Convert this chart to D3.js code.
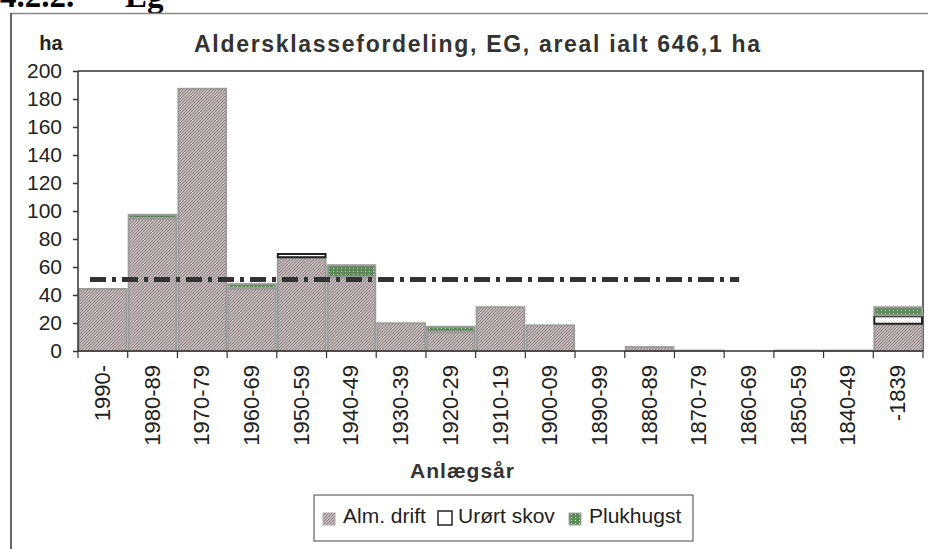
<!DOCTYPE html>
<html>
<head>
<meta charset="utf-8">
<script src="https://cdn.jsdelivr.net/npm/d3@7"></script>
<style>
  body { margin: 0; background: #fff; }
  svg { display: block; font-family: Arial, "Liberation Sans", sans-serif; }
</style>
</head>
<body>
<div id="chart"></div>
<script>
// age classes (planting years) and area per class, ha
var categories = ["1990-","1980-89","1970-79","1960-69","1950-59","1940-49","1930-39","1920-29",
                  "1910-19","1900-09","1890-99","1880-89","1870-79","1860-69","1850-59","1840-49","-1839"];
var almDrift  = [45, 95, 188, 45, 67, 53, 20.5, 14, 32, 19, 0, 3.5, 1, 0, 1, 1, 19.5];
var urortSkov = [0, 0, 0, 0, 3, 0, 0, 0, 0, 0, 0, 0, 0, 0, 0, 0, 6];
var plukhugst = [0, 3, 0, 3.5, 0, 9, 0, 4, 0, 0, 0, 0, 0, 0, 0, 0, 6.5];
var seriesNames = ["Alm. drift", "Urørt skov", "Plukhugst"];
var yTicks = [0, 20, 40, 60, 80, 100, 120, 140, 160, 180, 200];
// normal (average) level line
var normValue = 51;
var normFrom = "1990-", normTo = "1860-69";

var W = 928, H = 549;
var margin = {left: 78, right: 5, top: 71, bottom: 198};

var svg = d3.select("#chart")
	.append("svg")
	.attr("width", W)
	.attr("height", H);

var defs = svg.append("defs");
var hatch = defs.append("pattern")
	.attr("id", "hatch")
	.attr("patternUnits", "userSpaceOnUse")
	.attr("width", 3).attr("height", 3);
hatch.append("rect").attr("width", 3).attr("height", 3).attr("fill", "#c4b9b9");
hatch.append("path").attr("d", "M0,3 L3,0 M-1,1 L1,-1 M2,4 L4,2")
	.attr("stroke", "#8e8282").attr("stroke-width", 1);

var dots = defs.append("pattern")
	.attr("id", "dots")
	.attr("patternUnits", "userSpaceOnUse")
	.attr("width", 4).attr("height", 3);
dots.append("rect").attr("width", 4).attr("height", 3).attr("fill", "#5e8a5a");
dots.append("rect").attr("x", 1).attr("y", 1).attr("width", 1).attr("height", 1).attr("fill", "#c8dcc0");

// page heading, cut off at the top
var serif = "'Liberation Serif', 'DejaVu Serif', serif";
svg.append("text")
	.attr("x", 0).attr("y", 7)
	.style("font-family", serif)
	.style("font-weight", "bold")
	.style("font-size", "33px")
	.text("4.2.2.");
svg.append("text")
	.attr("x", 125).attr("y", 7)
	.style("font-family", serif)
	.style("font-weight", "bold")
	.style("font-size", "33px")
	.text("Eg");

// chart frame
svg.append("line").attr("x1", 11).attr("x2", W).attr("y1", 13.5).attr("y2", 13.5)
	.attr("stroke", "#888").attr("stroke-width", 1.5);
svg.append("line").attr("x1", 11).attr("x2", 11).attr("y1", 13).attr("y2", H)
	.attr("stroke", "#333").attr("stroke-width", 1.5);

var x = d3.scaleBand()
	.domain(categories)
	.range([margin.left, W - margin.right])
	.padding(0);

var y = d3.scaleLinear()
	.domain([0, 200])
	.range([H - margin.bottom, margin.top]);

// plot area border (top/right)
svg.append("path")
	.attr("d", "M" + margin.left + "," + y(200) + "H" + (W - margin.right) + "V" + y(0))
	.attr("fill", "none").attr("stroke", "#333").attr("stroke-width", 1.5);

var table = categories.map(function(c, i) {
	return {cat: c, "Alm. drift": almDrift[i], "Urørt skov": urortSkov[i], "Plukhugst": plukhugst[i]};
});
var stack = d3.stack().keys(seriesNames)(table);
var fills = {"Alm. drift": "url(#hatch)", "Urørt skov": "#fff", "Plukhugst": "url(#dots)"};
var strokes = {"Alm. drift": "#9c9c9c", "Urørt skov": "#222", "Plukhugst": "#9c9c9c"};

var layers = svg.selectAll("g.layer")
	.data(stack)
	.enter()
	.append("g")
	.classed("layer", true)
	.attr("fill", function(d){ return fills[d.key]; })
	.attr("stroke", function(d){ return strokes[d.key]; })
	.attr("stroke-width", 2);

layers.selectAll("rect")
	.data(function(d){ return d.filter(function(p){ return p[1] - p[0] > 0; }); })
	.enter()
	.append("rect")
	.attr("x", function(d){ return x(d.data.cat) + 1; })
	.attr("width", x.bandwidth() - 2)
	.attr("y", function(d){ return y(d[1]) + 1; })
	.attr("height", function(d){ return Math.max(0, y(d[0]) - y(d[1]) - 1); });

// y axis
var yAxis = svg.append("g")
	.attr("transform", "translate(" + margin.left + ",0)")
	.call(d3.axisLeft(y).tickValues(yTicks).tickSize(5).tickPadding(11));
yAxis.selectAll("text").style("font-size", "21px").attr("fill", "#222");
yAxis.selectAll("line, path").attr("stroke", "#333").attr("stroke-width", 1.5);
yAxis.select(".domain").attr("d", "M0," + y(200) + "V" + y(0));

// x axis, ticks at band boundaries
var xAxis = svg.append("g")
	.attr("transform", "translate(0," + y(0) + ")");
xAxis.append("line")
	.attr("x1", margin.left).attr("x2", W - margin.right)
	.attr("stroke", "#333").attr("stroke-width", 1.5);
xAxis.selectAll("line.tick")
	.data(categories.concat(["end"]))
	.enter()
	.append("line")
	.classed("tick", true)
	.attr("x1", function(d, i){ return margin.left + i * x.bandwidth(); })
	.attr("x2", function(d, i){ return margin.left + i * x.bandwidth(); })
	.attr("y1", 0).attr("y2", 7)
	.attr("stroke", "#333").attr("stroke-width", 1.2);
xAxis.selectAll("text")
	.data(categories)
	.enter()
	.append("text")
	.attr("transform", function(d){
		return "translate(" + (x(d) + x.bandwidth() / 2 + 7) + ",14) rotate(-90)";
	})
	.attr("text-anchor", "end")
	.style("font-size", "22px")
	.attr("fill", "#222")
	.text(function(d){ return d; });

// normal level dash-dot line
svg.append("line")
	.attr("x1", x(normFrom) + 12)
	.attr("x2", x(normTo) + 15)
	.attr("y1", y(normValue)).attr("y2", y(normValue))
	.attr("stroke", "#333")
	.attr("stroke-width", 5)
	.attr("stroke-dasharray", "16,6,4,6");

// titles
svg.append("text")
	.attr("x", 194).attr("y", 52)
	.attr("textLength", 566)
	.attr("lengthAdjust", "spacing")
	.style("font-size", "23px").style("font-weight", "bold")
	.attr("fill", "#333")
	.text("Aldersklassefordeling, EG, areal ialt 646,1 ha");
svg.append("text")
	.attr("x", 51).attr("y", 50)
	.attr("text-anchor", "middle")
	.style("font-size", "20px").style("font-weight", "bold")
	.attr("fill", "#222")
	.text("ha");
svg.append("text")
	.attr("x", 410).attr("y", 478)
	.attr("textLength", 104)
	.attr("lengthAdjust", "spacing")
	.style("font-size", "21px").style("font-weight", "bold")
	.attr("fill", "#333")
	.text("Anlægsår");

// legend
var legend = svg.append("g").attr("transform", "translate(314,495)");
legend.append("rect")
	.attr("width", 379).attr("height", 46)
	.attr("fill", "#fff").attr("stroke", "#444").attr("stroke-width", 1);
var legIcon = [9, 124, 255];
var legText = [29, 144, 275];
var legItems = legend.selectAll("g.item")
	.data(seriesNames)
	.enter()
	.append("g")
	.classed("item", true);
legItems.append("rect")
	.attr("x", function(d, i){ return legIcon[i]; })
	.attr("y", function(d){ return d == "Urørt skov" ? 16 : 18; })
	.attr("width", function(d){ return d == "Urørt skov" ? 14 : 12; })
	.attr("height", function(d){ return d == "Urørt skov" ? 14 : 12; })
	.attr("fill", function(d){ return fills[d]; })
	.attr("stroke", function(d){ return d == "Urørt skov" ? "#222" : "#aaa"; })
	.attr("stroke-width", function(d){ return d == "Urørt skov" ? 1.5 : 1; });
legItems.append("text")
	.attr("x", function(d, i){ return legText[i]; })
	.attr("y", 28)
	.style("font-size", "21px")
	.attr("fill", "#222")
	.text(function(d){ return d; });
</script>
</body>
</html>
